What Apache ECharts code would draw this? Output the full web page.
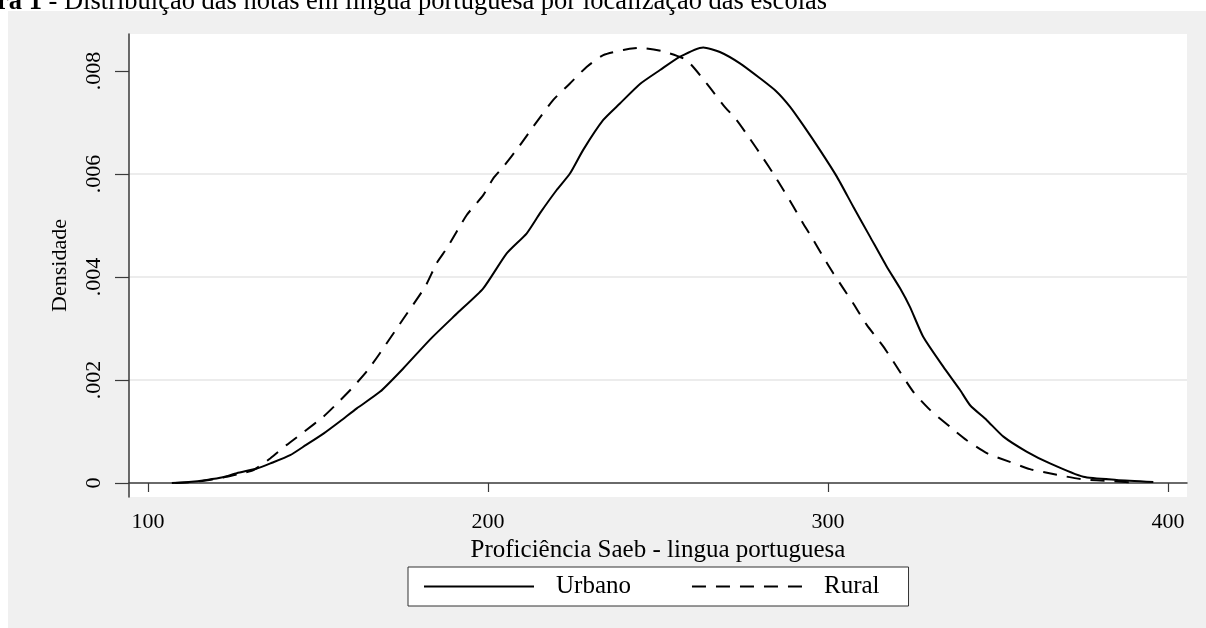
<!DOCTYPE html>
<html>
<head>
<meta charset="utf-8">
<script src="https://cdn.jsdelivr.net/npm/echarts@6/dist/echarts.min.js"></script>
<style>
html,body{margin:0;padding:0;background:#fff;}
#chart{width:1206px;height:628px;}
</style>
</head>
<body>
<div id="chart"></div>
<script>
// ---- data ----
const urbanoX = [107,112,117.3,122,126.1,132,136,141.8,146.5,151.6,156.5,161.4,168.2,175,183,191,198.6,205.5,211.4,215.3,220.2,224.1,228,233.9,238.8,244.7,250.6,256.5,263.3,268.2,274.1,280,284.9,288.8,292.7,297.6,302.6,307.4,312.4,317.3,321.2,324.1,328,333.9,338.8,341.8,346.7,351.6,358.4,365.3,375.1,384.9,395.7];
const urbanoY = [0,0.00002,0.00006,0.00011,0.00019,0.00028,0.00038,0.00054,0.00074,0.00096,0.0012,0.00145,0.00177,0.00222,0.00279,0.0033,0.00378,0.00446,0.00485,0.00524,0.00569,0.00601,0.00647,0.00705,0.00737,0.00775,0.00802,0.00828,0.00846,0.00837,0.00815,0.00786,0.0076,0.00731,0.00695,0.00647,0.00595,0.00537,0.00478,0.0042,0.00378,0.00342,0.00284,0.00226,0.00181,0.00151,0.00122,0.0009,0.00061,0.00038,0.00012,0.00006,0.00002];
const ruralX = [108,113,118,123,127,131,136,140.8,146,151.6,156,160.4,164.5,168.2,175,181.5,184.9,187.9,193.7,198.6,201.6,204.5,209.4,213.3,219.2,224.1,229,233.9,239.8,244.7,251.6,258.4,264.3,269.2,273.1,277,281,283.9,286.9,289.8,292.7,295.7,298.6,301.6,304.5,307.4,311.4,316.3,319.2,325.1,330,335.9,340.8,346.7,353.5,359.4,367.3,375.1,383,390];
const ruralY = [0,0.00002,0.00006,0.00012,0.00018,0.00025,0.00048,0.00074,0.001,0.00129,0.00157,0.00187,0.00218,0.00252,0.00318,0.00381,0.00427,0.00456,0.0052,0.00559,0.00592,0.00614,0.00656,0.00692,0.00744,0.00776,0.00808,0.00831,0.00841,0.00845,0.00838,0.00821,0.00776,0.00734,0.00705,0.00669,0.0063,0.00601,0.00569,0.00537,0.00504,0.00472,0.00439,0.00407,0.00378,0.00349,0.00307,0.00265,0.00236,0.00177,0.00142,0.00109,0.00083,0.00058,0.00041,0.00027,0.00016,0.00007,0.00004,0.00001];
const xTickValues = [100,200,300,400];
const yTickValues = [0,0.002,0.004,0.006,0.008];
const seriesNames = ['Urbano','Rural'];
const titleBold = 'ra 1';
const titleRest = ' - Distribuição das notas em lingua portuguesa por localização das escolas';
const xAxisTitle = 'Proficiência Saeb - lingua portuguesa';
const yAxisTitle = 'Densidade';

const FONT = '"Liberation Serif","Times New Roman",serif';
const zip = (xs, ys) => xs.map((x, i) => [x, ys[i]]);

const chart = echarts.init(document.getElementById('chart'), null, {renderer: 'canvas'});
chart.setOption({
  backgroundColor: '#ffffff',
  animation: false,
  graphic: [
    {type: 'rect', left: 8, top: 11, shape: {width: 1198, height: 617}, style: {fill: '#f0f0f0'}, z: -10, silent: true},
    {type: 'text', left: -3, top: -11, z: 10,
      style: {text: '{b|' + titleBold + '}' + titleRest, fill: '#000', font: '26.5px ' + FONT,
        rich: {b: {fontWeight: 'bold', fontSize: 26.5, fontFamily: FONT}}}}
  ],
  grid: {left: 129, right: 19, top: 34, bottom: 131, show: true, backgroundColor: '#ffffff', borderWidth: 0},
  xAxis: {
    type: 'value', min: 94.4, max: 405.6, splitNumber: 3,
    axisLine: {show: true, lineStyle: {color: '#3a3a3a', width: 1.5}},
    axisTick: {show: true, length: 9, customValues: xTickValues, lineStyle: {color: '#3a3a3a', width: 1.2}},
    axisLabel: {customValues: xTickValues, margin: 14, color: '#000', fontFamily: FONT, fontSize: 22,
      formatter: v => (xTickValues.indexOf(v) >= 0 ? String(v) : '')},
    splitLine: {show: false},
    name: xAxisTitle, nameLocation: 'middle', nameGap: 30,
    nameTextStyle: {color: '#000', fontFamily: FONT, fontSize: 25}
  },
  yAxis: {
    type: 'value', min: -0.000272, max: 0.00872,
    axisLine: {show: true, lineStyle: {color: '#3a3a3a', width: 1.5}},
    axisTick: {show: true, length: 14, customValues: yTickValues, lineStyle: {color: '#3a3a3a', width: 1.2}},
    axisLabel: {customValues: yTickValues, rotate: 90, margin: 24, color: '#000', fontFamily: FONT, fontSize: 22,
      formatter: v => (v === 0 ? '0' : v.toFixed(3).replace(/^0/, ''))},
    splitLine: {show: true, showMinLine: false, showMaxLine: false, lineStyle: {color: '#e6e6e6', width: 1.5}},
    name: yAxisTitle, nameLocation: 'middle', nameRotate: 90, nameGap: 58,
    nameTextStyle: {color: '#000', fontFamily: FONT, fontSize: 22}
  },
  legend: {
    data: seriesNames, left: 408, top: 567, orient: 'horizontal',
    backgroundColor: '#ffffff', borderColor: '#333', borderWidth: 1, borderRadius: 0,
    padding: [7, 29, 7, 15], itemWidth: 110, itemHeight: 14, itemGap: 60,
    itemStyle: {color: 'transparent', borderColor: 'transparent', borderWidth: 0, opacity: 0},
    textStyle: {color: '#000', fontFamily: FONT, fontSize: 25, padding: [0, 0, 0, 17]}
  },
  series: [
    {name: seriesNames[0], type: 'line', data: zip(urbanoX, urbanoY), symbol: 'none', showSymbol: false, smooth: 0.2,
      lineStyle: {color: '#000', width: 2, type: 'solid'}, itemStyle: {color: '#000'}},
    {name: seriesNames[1], type: 'line', data: zip(ruralX, ruralY), symbol: 'none', showSymbol: false, smooth: 0.2,
      lineStyle: {color: '#000', width: 2, type: [14, 10]}, itemStyle: {color: '#000'}}
  ]
});
</script>
</body>
</html>
